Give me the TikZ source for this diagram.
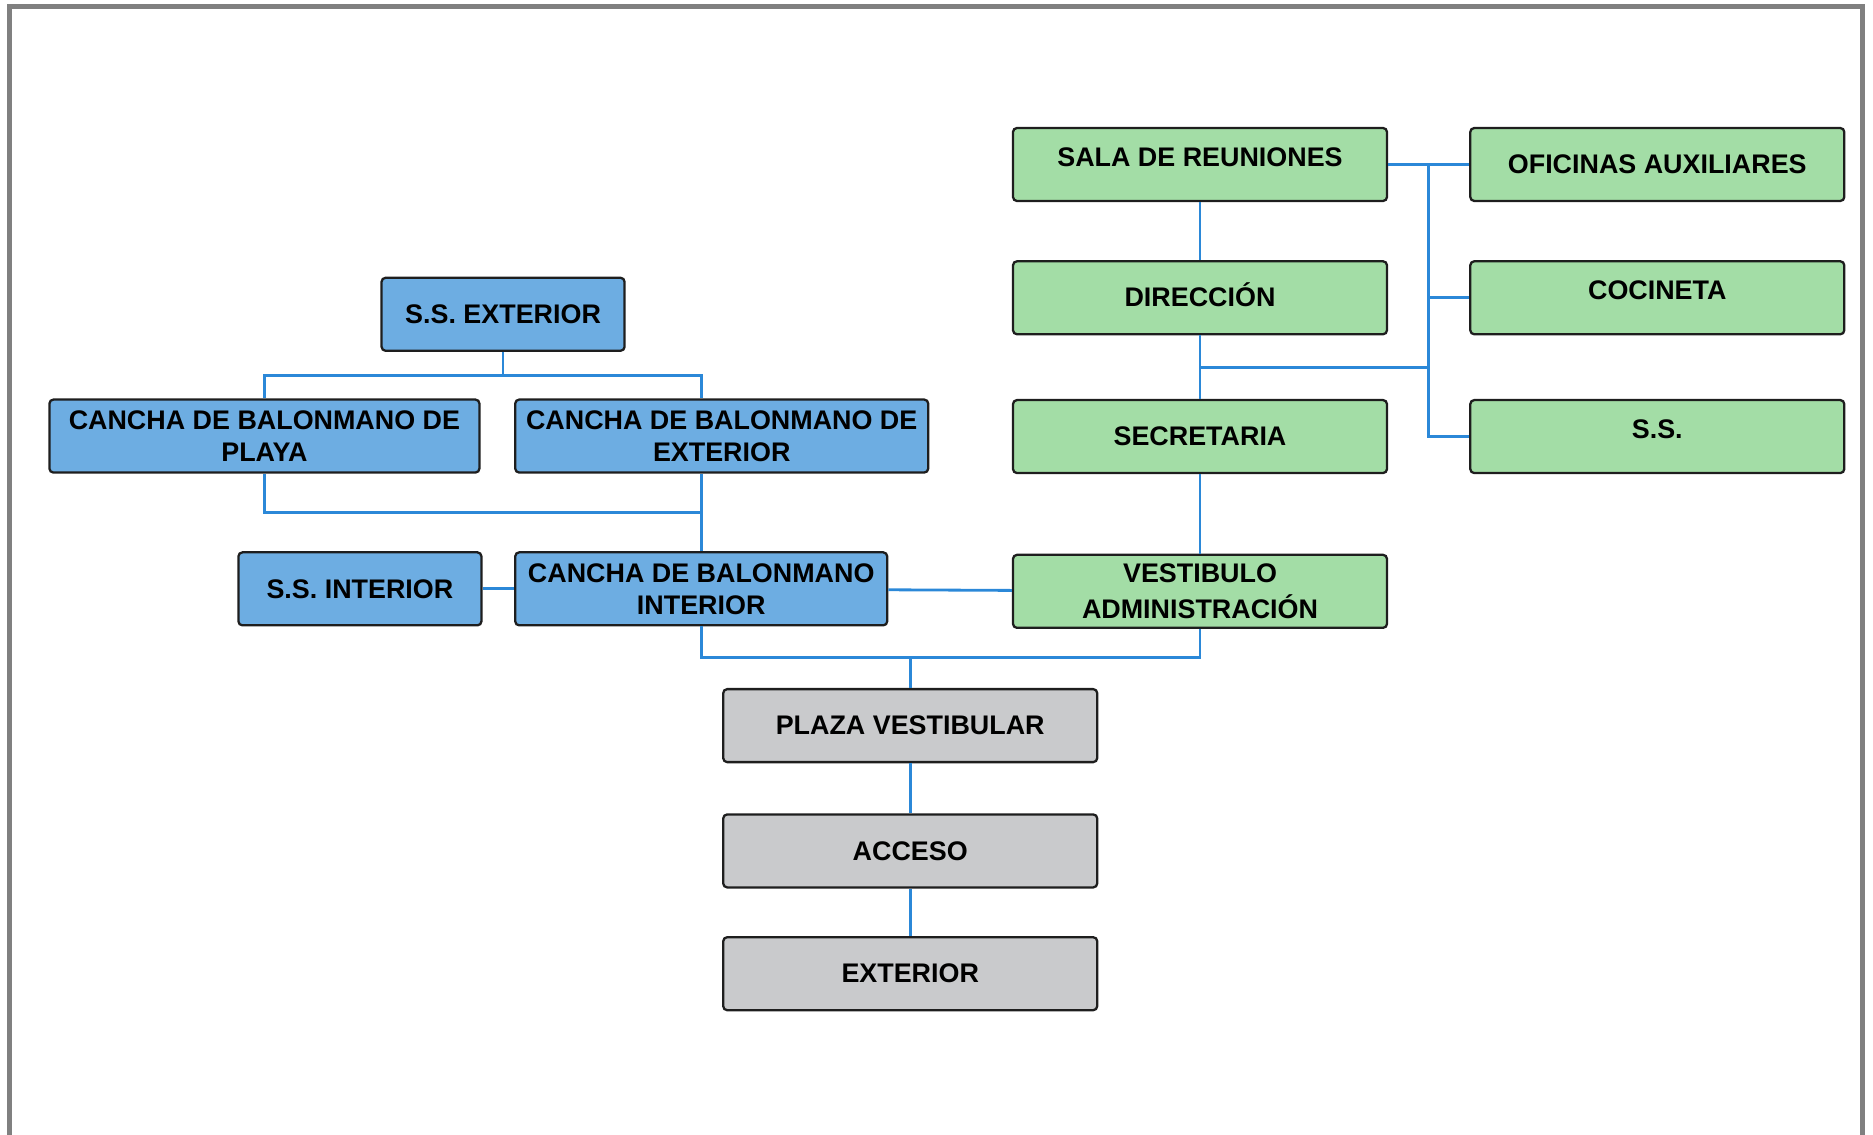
\documentclass[tikz,border=0pt]{standalone}
\usepackage{fontspec}
\setmainfont{Liberation Sans}
\usetikzlibrary{%
	calc,%
	positioning,%
}
\definecolor{cblue}{RGB}{43, 136, 216}
\definecolor{cbluelight}{RGB}{109, 173, 226}
\definecolor{cgreenlight}{RGB}{163, 221, 166}
\definecolor{cgreylight}{RGB}{201, 202, 204}
\definecolor{cframe}{RGB}{128, 128, 128}
\definecolor{cborder}{RGB}{30, 30, 30}
\tikzset{
	nodes={align=center},%
	room/.style={%
			draw=cborder,%
			rectangle,%
			line width=1.3pt,%
			rounded corners=0.08cm,%
			minimum height=1.46cm,%
			inner sep=0,%
			font={\fontsize{15.3}{18.2}\selectfont\bfseries}},%
	sportnode/.style={%
			room,%
			fill=cbluelight},%
	adminnode/.style={%
			room,%
			fill=cgreenlight,%
			minimum width=7.48cm},%
	accessnode/.style={%
			room,%
			fill=cgreylight,%
			minimum width=7.48cm},%
	hightext/.style={%
			text depth=0.3cm},%
	wire/.style={%
			draw=cblue,%
			line width=1.6pt},%
}

\begin{document}
\begin{tikzpicture}
	\useasboundingbox (0,0) rectangle (37.46,-22.7);
	\draw[cframe, line width=0.1cm] (0.19,-22.7) -- (0.19,-0.14) -- (37.25,-0.14) -- (37.25,-22.7);

	% administracion
	\node[adminnode, hightext] (sala) at (24,-3.29) {SALA DE REUNIONES};
	\node[adminnode] (oficinas) [right=1.62cm of sala] {OFICINAS AUXILIARES};
	\node[adminnode, text height=0.385cm, text depth=0.05cm] (direccion) [below=1.16cm of sala] {DIRECCIÓN};
	\node[adminnode, hightext] (cocineta) [right=1.62cm of direccion] {COCINETA};
	\node[adminnode] (secretaria) [below=1.27cm of direccion] {SECRETARIA};
	\node[adminnode, hightext] (ss) [right=1.62cm of secretaria] {S.S.};
	\node[adminnode] (vestibulo) [below=1.59cm of secretaria] {VESTIBULO\\[2pt]ADMINISTRACIÓN};

	% canchas
	\node[sportnode, minimum width=7.44cm] (cinterior) [left=2.47cm of vestibulo, yshift=0.05cm] {CANCHA DE BALONMANO\\INTERIOR};
	\node[sportnode, minimum width=4.86cm] (ssinterior) [left=0.63cm of cinterior] {S.S. INTERIOR};
	\node[sportnode, minimum width=8.26cm, above=1.55cm of cinterior.north west, anchor=south west] (cexterior) {CANCHA DE BALONMANO DE\\EXTERIOR};
	\node[sportnode, minimum width=8.6cm] (cplaya) [left=0.67cm of cexterior] {CANCHA DE BALONMANO DE\\PLAYA};
	\node[sportnode, minimum width=4.86cm] (ssexterior) [above=0.93cm of cexterior.north west, xshift=-0.22cm] {S.S. EXTERIOR};

	% acceso
	\coordinate (jbottom) at ($(cinterior.south)+(4.18,-0.62)$);
	\node[accessnode] (plaza) [below=0.61cm of jbottom] {PLAZA VESTIBULAR};
	\node[accessnode] (acceso) [below=1.0cm of plaza] {ACCESO};
	\node[accessnode] (exterior) [below=0.95cm of acceso] {EXTERIOR};

	\coordinate (jadmin) at ($(sala.east)!0.5!(oficinas.west)$);
	\coordinate (jdir) at ($(direccion.south)!0.5!(secretaria.north)$);
	\coordinate (jext) at ($(ssexterior.south)!0.5!(ssexterior.south |- cexterior.north)$);
	\coordinate (jplaya) at ($(cplaya.south)!0.5!(cplaya.south |- cinterior.north)$);

	\draw[wire] (sala) -- (oficinas);
	\draw[wire] (jadmin) |- (ss.west);
	\draw[wire] (jadmin |- cocineta) -- (cocineta.west);
	\draw[wire] (sala) -- (direccion);
	\draw[wire] (direccion) -- (secretaria);
	\draw[wire] (jdir) -- (jdir -| jadmin);
	\draw[wire] (secretaria) -- (vestibulo);
	\draw[wire] (ssexterior) -- (jext);
	\draw[wire] (cplaya.north) |- (jext -| cinterior.north) -- (cexterior.north -| cinterior.north);
	\draw[wire] (cplaya.south) |- (jplaya -| cinterior.north);
	\draw[wire] (cexterior.south -| cinterior.north) -- (cinterior.north);
	\draw[wire] (ssinterior) -- (cinterior);
	\draw[wire] (cinterior) -- (vestibulo);
	\draw[wire] (cinterior.south) |- (jbottom) -| (vestibulo.south);
	\draw[wire] (jbottom) -- (plaza);
	\draw[wire] (plaza) -- (acceso);
	\draw[wire] (acceso) -- (exterior);
\end{tikzpicture}
\end{document}
